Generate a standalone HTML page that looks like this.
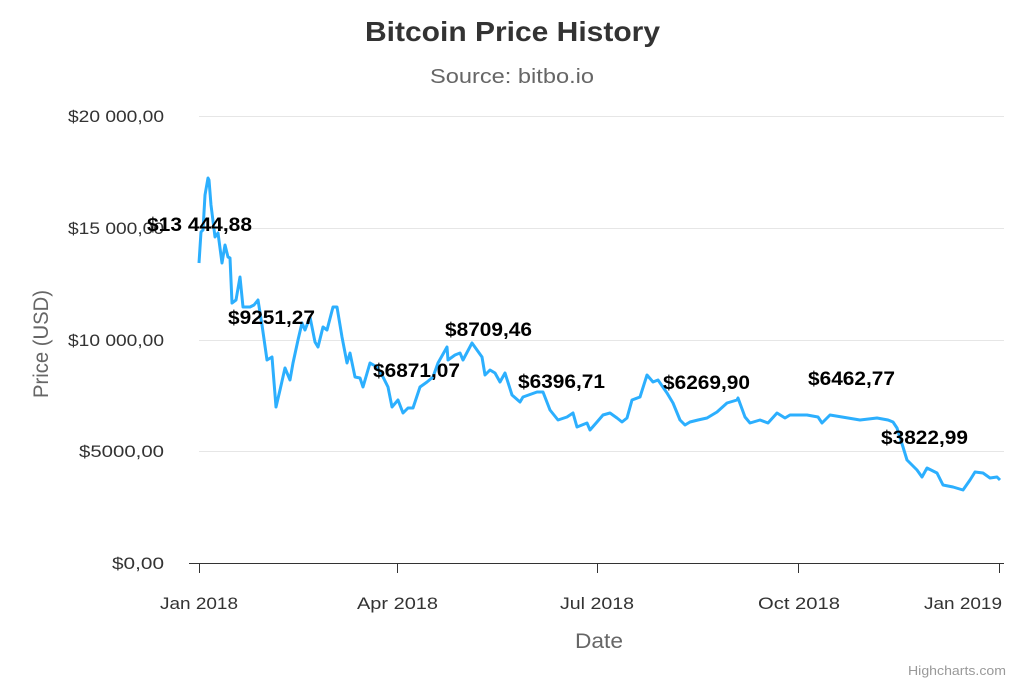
<!DOCTYPE html>
<html><head><style>body{margin:0;background:#fff}svg{display:block;font-family:"Liberation Sans",sans-serif}</style></head><body>
<svg width="1024" height="683" viewBox="0 0 1024 683">
<text x="365" y="41" textLength="295" lengthAdjust="spacingAndGlyphs" font-size="28" font-weight="bold" fill="#333">Bitcoin Price History</text>
<text x="430" y="83" textLength="164" lengthAdjust="spacingAndGlyphs" font-size="20" fill="#666">Source: bitbo.io</text>
<g stroke="#e6e6e6" stroke-width="1">
<line x1="199" x2="1004" y1="116.5" y2="116.5"/><line x1="199" x2="1004" y1="228.5" y2="228.5"/><line x1="199" x2="1004" y1="340.5" y2="340.5"/><line x1="199" x2="1004" y1="451.5" y2="451.5"/>
</g>
<line x1="189" x2="1004" y1="563.5" y2="563.5" stroke="#333" stroke-width="1"/>
<g stroke="#333"><line x1="199.5" x2="199.5" y1="563" y2="573"/><line x1="397.5" x2="397.5" y1="563" y2="573"/><line x1="597.5" x2="597.5" y1="563" y2="573"/><line x1="798.5" x2="798.5" y1="563" y2="573"/><line x1="999.5" x2="999.5" y1="563" y2="573"/></g>
<g font-size="17" fill="#333">
<text x="68" y="122" textLength="96" lengthAdjust="spacingAndGlyphs">$20 000,00</text>
<text x="68" y="234" textLength="96" lengthAdjust="spacingAndGlyphs">$15 000,00</text>
<text x="68" y="346" textLength="96" lengthAdjust="spacingAndGlyphs">$10 000,00</text>
<text x="79" y="457" textLength="85" lengthAdjust="spacingAndGlyphs">$5000,00</text>
<text x="112" y="569" textLength="52" lengthAdjust="spacingAndGlyphs">$0,00</text>
</g>
<g font-size="17" fill="#333">
<text x="160" y="609" textLength="78" lengthAdjust="spacingAndGlyphs">Jan 2018</text>
<text x="357" y="609" textLength="81" lengthAdjust="spacingAndGlyphs">Apr 2018</text>
<text x="560" y="609" textLength="74" lengthAdjust="spacingAndGlyphs">Jul 2018</text>
<text x="758" y="609" textLength="82" lengthAdjust="spacingAndGlyphs">Oct 2018</text>
<text x="924" y="609" textLength="78" lengthAdjust="spacingAndGlyphs">Jan 2019</text>
</g>
<text x="575" y="648" textLength="48" lengthAdjust="spacingAndGlyphs" font-size="21" fill="#666">Date</text>
<text transform="translate(48,398) rotate(-90)" textLength="108" lengthAdjust="spacingAndGlyphs" font-size="21" fill="#666">Price (USD)</text>
<text x="908" y="675" textLength="98" lengthAdjust="spacingAndGlyphs" font-size="13" fill="#999">Highcharts.com</text>
<polyline fill="none" stroke="#2caffe" stroke-width="3" stroke-linejoin="round" points="199,263 201,232 203,230 205,195 208,178 209,180 211,205 215,237 218,233 222,263 225,245 228,257 230,258 232,303 236,300 240,277 243,307 250,307 254,305 258,300 262,325 267,360 272,357 276,407 280,390 285,368 290,380 293,363 298,340 302,323 305,330 310,317 315,342 318,347 323,327 327,330 333,307 337,307 342,337 347,363 350,353 355,377 360,378 363,387 370,363 377,367 383,377 388,387 392,407 398,400 403,413 408,408 413,408 420,387 427,382 433,377 438,363 447,347 448,360 455,355 460,353 463,360 472,343 477,350 482,357 485,375 490,370 495,373 500,382 505,373 512,395 520,402 523,397 537,392 543,392 550,410 558,420 567,417 573,413 577,427 587,423 590,430 597,422 603,415 610,413 617,418 622,422 627,418 632,400 640,397 647,375 653,382 658,380 667,393 673,403 680,420 685,425 690,422 698,420 707,418 717,412 727,403 737,400 738,398 745,417 750,423 760,420 768,423 777,413 785,418 790,415 807,415 818,417 822,423 830,415 860,420 877,418 888,420 893,422 897,428 903,447 907,460 917,470 922,477 927,468 937,473 943,485 953,487 963,490 970,480 975,472 983,473 990,478 997,477 1000,480"/>
<g font-size="19" font-weight="bold" fill="#000">
<text x="147" y="231" textLength="105" lengthAdjust="spacingAndGlyphs">$13 444,88</text>
<text x="228" y="324" textLength="87" lengthAdjust="spacingAndGlyphs">$9251,27</text>
<text x="373" y="377" textLength="87" lengthAdjust="spacingAndGlyphs">$6871,07</text>
<text x="445" y="336" textLength="87" lengthAdjust="spacingAndGlyphs">$8709,46</text>
<text x="518" y="388" textLength="87" lengthAdjust="spacingAndGlyphs">$6396,71</text>
<text x="663" y="389" textLength="87" lengthAdjust="spacingAndGlyphs">$6269,90</text>
<text x="808" y="385" textLength="87" lengthAdjust="spacingAndGlyphs">$6462,77</text>
<text x="881" y="444" textLength="87" lengthAdjust="spacingAndGlyphs">$3822,99</text>
</g>
</svg>
</body></html>
